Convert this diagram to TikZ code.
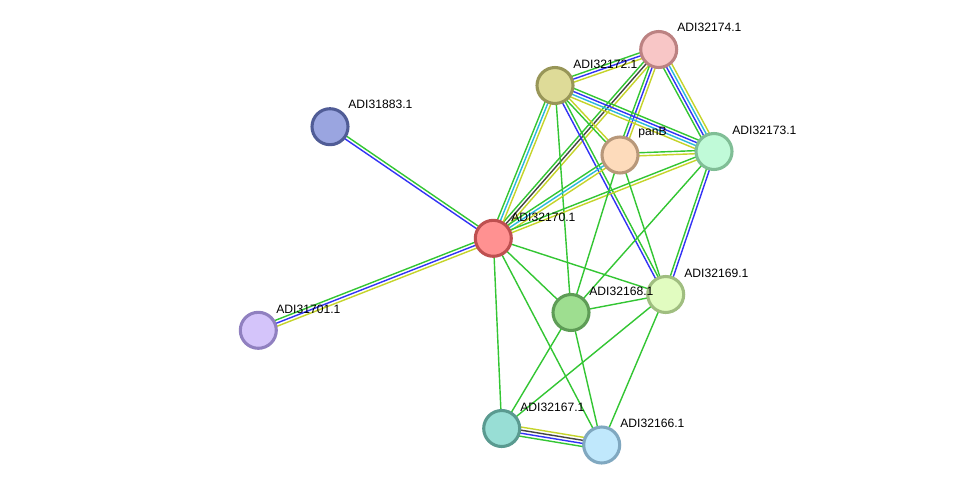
\documentclass[tikz,border=0pt]{standalone}
\usepackage{fontspec}
\setmainfont{Liberation Sans}
\usetikzlibrary{calc}
\definecolor{cg}{HTML}{33C633}
\definecolor{cb}{HTML}{3333F5}
\definecolor{cc}{HTML}{2BB8DC}
\definecolor{cy}{HTML}{C5D42A}
\definecolor{ck}{HTML}{444444}
\pgfdeclarelayer{bg}
\pgfsetlayers{bg,main}
\newcommand\lnk[3]{%
  \foreach \c [count=\n] in {#3}{\xdef\lnkn{\n}}%
  \foreach \c [count=\i] in {#3}{%
    \pgfmathsetmacro\lnko{(\i-1-(\lnkn-1)/2)*1.75}%
    \draw[edge,\c] ($(#1.center)!\lnko pt!90:(#2.center)$) -- ($(#2.center)!\lnko pt!-90:(#1.center)$);}}
\begin{document}
\begin{tikzpicture}[x=0.02cm,y=-0.02cm,
  prot/.style={circle,minimum size=0.72cm,inner sep=0pt,line width=1.75pt},
  lbl/.style={anchor=west,inner sep=0pt,font=\fontsize{6.9}{8}\selectfont},
  edge/.style={line width=0.8pt}]
\useasboundingbox (0,0) rectangle (976,490);
\node[prot,fill={rgb,255:red,248;green,198;blue,198},draw={rgb,255:red,188;green,130;blue,130}] (n74) at (658.7,49.5) {};
\node[prot,fill={rgb,255:red,222;green,219;blue,152},draw={rgb,255:red,152;green,150;blue,88}] (n72) at (555,85.5) {};
\node[prot,fill={rgb,255:red,154;green,165;blue,224},draw={rgb,255:red,80;green,92;blue,150}] (n83) at (330,126.7) {};
\node[prot,fill={rgb,255:red,253;green,219;blue,187},draw={rgb,255:red,184;green,152;blue,122}] (npb) at (620,155) {};
\node[prot,fill={rgb,255:red,192;green,250;blue,216},draw={rgb,255:red,128;green,190;blue,150}] (n73) at (714,151.5) {};
\node[prot,fill={rgb,255:red,255;green,145;blue,145},draw={rgb,255:red,190;green,80;blue,80}] (n70) at (493.3,238.3) {};
\node[prot,fill={rgb,255:red,225;green,252;blue,192},draw={rgb,255:red,160;green,190;blue,128}] (n69) at (665.7,294.5) {};
\node[prot,fill={rgb,255:red,158;green,222;blue,144},draw={rgb,255:red,94;green,156;blue,86}] (n68) at (571,312.5) {};
\node[prot,fill={rgb,255:red,212;green,196;blue,250},draw={rgb,255:red,144;green,128;blue,192}] (n01) at (258.3,330.3) {};
\node[prot,fill={rgb,255:red,152;green,222;blue,213},draw={rgb,255:red,90;green,154;blue,144}] (n67) at (501.7,428.5) {};
\node[prot,fill={rgb,255:red,192;green,232;blue,252},draw={rgb,255:red,128;green,168;blue,192}] (n66) at (601.7,445) {};
\node[lbl] (l74) at (677,27) {ADI32174.1};
\node[lbl] (l72) at (573,64) {ADI32172.1};
\node[lbl] (l83) at (348,104.5) {ADI31883.1};
\node[lbl] (lpb) at (638,133) {panB};
\node[lbl] (l73) at (732,130) {ADI32173.1};
\node[lbl] (l70) at (511,217) {ADI32170.1};
\node[lbl] (l69) at (684,273) {ADI32169.1};
\node[lbl] (l68) at (589,291) {ADI32168.1};
\node[lbl] (l01) at (276,309) {ADI31701.1};
\node[lbl] (l67) at (520,407) {ADI32167.1};
\node[lbl] (l66) at (620,423) {ADI32166.1};
\begin{pgfonlayer}{bg}
\fill[white] (0,0) rectangle (976,490);
\lnk{n83}{n70}{cb,cg}
\lnk{n01}{n70}{cy,cb,cg}
\lnk{n72}{n74}{cy,cb,cg}
\lnk{n74}{n70}{cg,ck,cy}
\lnk{n74}{npb}{cg,cb,cy}
\lnk{n74}{n73}{cg,cb,cc,cy}
\lnk{n72}{n73}{cy,cc,cb,cg}
\lnk{n72}{npb}{cg,cy}
\lnk{n72}{n70}{cg,cc,cy}
\lnk{n72}{n68}{cg}
\lnk{n72}{n69}{cb,cg}
\lnk{npb}{n73}{cy,cg}
\lnk{npb}{n70}{cg,cc,cy}
\lnk{n73}{n70}{cg,cy}
\lnk{n73}{n69}{cg,cb}
\lnk{n73}{n68}{cg}
\lnk{npb}{n68}{cg}
\lnk{npb}{n69}{cg}
\lnk{n70}{n69}{cg}
\lnk{n70}{n68}{cg}
\lnk{n70}{n67}{cg}
\lnk{n70}{n66}{cg}
\lnk{n68}{n69}{cg}
\lnk{n68}{n67}{cg}
\lnk{n68}{n66}{cg}
\lnk{n69}{n67}{cg}
\lnk{n69}{n66}{cg}
\lnk{n67}{n66}{cg,cb,ck,cy}
\end{pgfonlayer}
\end{tikzpicture}
\end{document}
